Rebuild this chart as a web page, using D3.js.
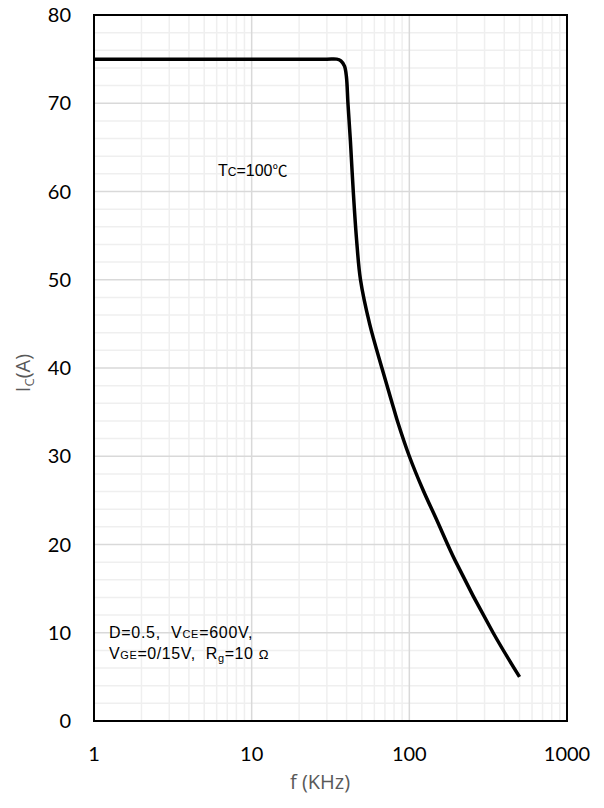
<!DOCTYPE html>
<html lang="en">
<head>
  <meta charset="UTF-8">
  <title>Ic vs f</title>
  <script src="https://d3js.org/d3.v7.min.js"></script>
  <style>
    body { margin: 0; background: #fff; }
    .tick-label { font-family: "Lato", "Open Sans", sans-serif; font-size: 20px; fill: #000; }
    .axis-title { font-family: "Open Sans", sans-serif; font-size: 20px; fill: #595959; }
    .note { font-family: "Liberation Sans", Arial, sans-serif; font-size: 16px; fill: #000; }
  </style>
</head>
<body>
<div id="chart"></div>
<script>
  // curve: collector current vs switching frequency
  const freq = [1, 10, 30, 34.6, 36.8, 38.8, 39.9, 40.8, 42.3, 44.1, 46.3, 49, 56, 67, 77, 84, 100, 122, 149, 195, 340, 500];
  const current = [75, 75, 75, 75, 74.8, 74.2, 73, 70, 65.7, 60, 54.5, 50, 45, 40, 36.3, 34, 30, 26.2, 22.8, 18.2, 10, 5];

  const xTicks = [1, 10, 100, 1000];
  const yTicks = [0, 10, 20, 30, 40, 50, 60, 70, 80];

  const W = 604, H = 808;
  const pLeft = 94, pRight = 567, pTop = 15, pBottom = 721;

  const svg = d3.select("#chart").append("svg")
    .attr("width", W).attr("height", H);

  const x = d3.scaleLog().domain([1, 1000]).range([pLeft, pRight]);
  const y = d3.scaleLinear().domain([0, 80]).range([pBottom, pTop]);

  // minor / major grid
  const vMinor = [];
  [1, 10, 100].forEach(d => { for (let k = 2; k <= 9; k++) vMinor.push(d * k); });
  const hMinor = d3.range(2, 80, 2).filter(v => v % 10 !== 0);

  const grid = svg.append("g");
  grid.selectAll(".vmin").data(vMinor).enter().append("line")
    .attr("x1", d => x(d)).attr("x2", d => x(d))
    .attr("y1", pTop).attr("y2", pBottom)
    .attr("stroke", "#efefef").attr("stroke-width", 1.5);
  grid.selectAll(".hmin").data(hMinor).enter().append("line")
    .attr("x1", pLeft).attr("x2", pRight)
    .attr("y1", d => y(d)).attr("y2", d => y(d))
    .attr("stroke", "#efefef").attr("stroke-width", 1.5);
  grid.selectAll(".vmaj").data([10, 100]).enter().append("line")
    .attr("x1", d => x(d)).attr("x2", d => x(d))
    .attr("y1", pTop).attr("y2", pBottom)
    .attr("stroke", "#d9d9d9").attr("stroke-width", 1.5);
  grid.selectAll(".hmaj").data(yTicks.slice(1, -1)).enter().append("line")
    .attr("x1", pLeft).attr("x2", pRight)
    .attr("y1", d => y(d)).attr("y2", d => y(d))
    .attr("stroke", "#d9d9d9").attr("stroke-width", 1.5);

  // curve
  const line = d3.line()
    .x((d, i) => x(freq[i]))
    .y(d => y(d))
    .curve(d3.curveCatmullRom.alpha(0.5));
  svg.append("path")
    .datum(current)
    .attr("d", line)
    .attr("fill", "none")
    .attr("stroke", "#000")
    .attr("stroke-width", 3.5)
    .attr("stroke-linejoin", "round");

  // frame
  svg.append("rect")
    .attr("x", pLeft).attr("y", pTop)
    .attr("width", pRight - pLeft).attr("height", pBottom - pTop)
    .attr("fill", "none").attr("stroke", "#000").attr("stroke-width", 2);

  // tick labels
  svg.selectAll(".yt").data(yTicks).enter().append("text")
    .attr("class", "tick-label")
    .attr("x", 71).attr("y", d => y(d))
    .attr("dy", "0.36em")
    .attr("text-anchor", "end")
    .text(d => d);
  svg.selectAll(".xt").data(xTicks).enter().append("text")
    .attr("class", "tick-label")
    .attr("x", d => x(d)).attr("y", 761)
    .attr("text-anchor", "middle")
    .text(d => d);

  // axis titles
  svg.append("text").attr("class", "axis-title")
    .attr("x", 320).attr("y", 789)
    .attr("text-anchor", "middle")
    .text("f (KHz)");
  const yt = svg.append("text").attr("class", "axis-title")
    .attr("transform", "translate(30,373) rotate(-90)")
    .attr("text-anchor", "middle");
  yt.append("tspan").text("I");
  yt.append("tspan").attr("font-size", "13px").attr("dy", 4).text("C");
  yt.append("tspan").attr("dy", -4).text("(A)");

  // annotations
  const t1 = svg.append("text").attr("class", "note").attr("x", 218).attr("y", 176);
  t1.append("tspan").text("T");
  t1.append("tspan").attr("font-size", "12px").text("C");
  t1.append("tspan").text("=100");
  t1.append("tspan").attr("font-family", "Noto Sans CJK SC").attr("font-size", "15px").text("℃");

  const t2 = svg.append("text").attr("class", "note").attr("x", 109).attr("y", 638)
    .attr("letter-spacing", 0.7);
  t2.append("tspan").text("D=0.5,\u00a0\u00a0V");
  t2.append("tspan").attr("font-size", "11px").text("CE");
  t2.append("tspan").text("=600V,");

  const t3 = svg.append("text").attr("class", "note").attr("x", 109).attr("y", 659)
    .attr("letter-spacing", 0.6);
  t3.append("tspan").text("V");
  t3.append("tspan").attr("font-size", "11px").text("GE");
  t3.append("tspan").text("=0/15V,\u00a0\u00a0R");
  t3.append("tspan").attr("font-size", "11px").attr("dy", 3).text("g");
  t3.append("tspan").attr("dy", -3).text("=10\u00a0");
  t3.append("tspan").attr("font-size", "13px").text("Ω");
</script>
</body>
</html>
